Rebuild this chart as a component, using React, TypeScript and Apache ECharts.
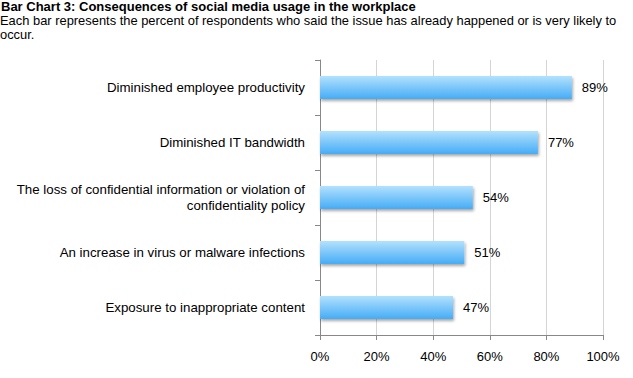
import React, { useEffect, useRef } from "react";
import * as echarts from "echarts";

const categories = [
  "Diminished employee productivity",
  "Diminished IT bandwidth",
  "The loss of confidential information or violation of\nconfidentiality policy",
  "An increase in virus or malware infections",
  "Exposure to inappropriate content",
];
const values = [89, 77, 54, 51, 47];
const titleText = "Bar Chart 3: Consequences of social media usage in the workplace";
const subtitleLines = [
  "Each bar represents the percent of respondents who said the issue has already happened or is very likely to",
  "occur.",
];

const FONT = "'Liberation Sans', Arial, Helvetica, sans-serif";

export default function App() {
  const ref = useRef<HTMLDivElement>(null);
  useEffect(() => {
    document.body.style.margin = "0";
    const chart = echarts.init(ref.current!, null, { renderer: "svg" });
    const subStyle = { fontFamily: FONT, fontSize: 12.9, fontWeight: "normal", color: "#000", lineHeight: 13 };
    chart.setOption({
      animation: false,
      backgroundColor: "#ffffff",
      title: [
        {
          text: titleText,
          left: 1,
          top: 0,
          padding: 0,
          textStyle: { fontFamily: FONT, fontSize: 13, fontWeight: "bold", color: "#000", lineHeight: 13 },
        },
        ...subtitleLines.map((t, i) => ({
          text: t,
          left: 0,
          top: 14 + i * 13.5,
          padding: 0,
          textStyle: subStyle,
        })),
      ],
      grid: { left: 320, right: 30, top: 60, bottom: 43 },
      xAxis: {
        type: "value",
        min: 0,
        max: 100,
        interval: 20,
        axisLine: { show: true, lineStyle: { color: "#888", width: 1 } },
        axisTick: { show: true, length: 5, lineStyle: { color: "#888" } },
        axisLabel: {
          formatter: "{value}%",
          fontFamily: FONT,
          fontSize: 13,
          color: "#000",
          margin: 15,
        },
        splitLine: { show: true, lineStyle: { color: "#d4d4d4", width: 1 } },
      },
      yAxis: {
        type: "category",
        data: categories,
        inverse: true,
        axisLine: { show: true, lineStyle: { color: "#888", width: 1 } },
        axisTick: { show: true, length: 5, lineStyle: { color: "#888" } },
        axisLabel: {
          fontFamily: FONT,
          fontSize: 13.3,
          color: "#000",
          margin: 15,
          align: "right",
          lineHeight: 16,
        },
      },
      series: [
        {
          type: "bar",
          data: values,
          barWidth: 23,
          itemStyle: {
            color: new echarts.graphic.LinearGradient(0, 0, 0, 1, [
              { offset: 0, color: "#b3e1fd" },
              { offset: 1, color: "#45acf6" },
            ]),
            shadowBlur: 3,
            shadowColor: "rgba(0,0,0,0.35)",
            shadowOffsetX: 1,
            shadowOffsetY: 2,
          },
          label: {
            show: true,
            position: "right",
            distance: 10,
            formatter: "{c}%",
            fontFamily: FONT,
            fontSize: 13,
            color: "#000",
          },
        },
      ],
    });
    return () => chart.dispose();
  }, []);
  return <div ref={ref} style={{ width: 633, height: 378 }} />;
}
